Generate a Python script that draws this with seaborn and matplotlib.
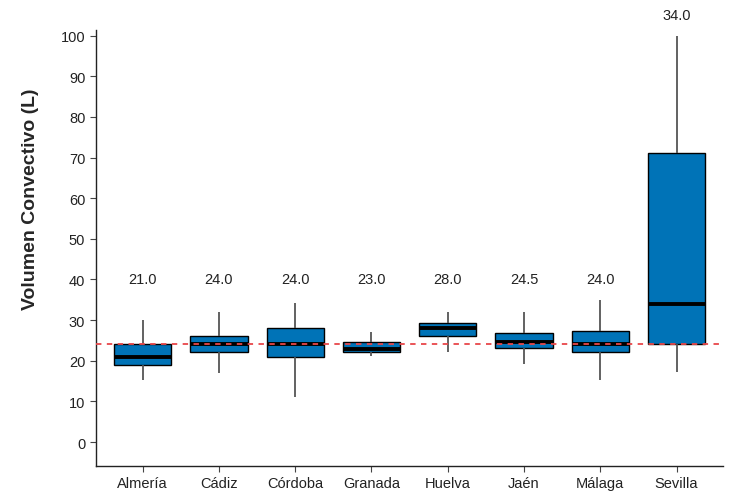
import numpy as np
import matplotlib.pyplot as plt
import seaborn as sns
import pandas as pd
from matplotlib import font_manager

# Summary values (min, Q1, median, Q3, max)
provincias = ["Almería", "Cádiz", "Córdoba", "Granada", "Huelva", "Jaén", "Málaga", "Sevilla"]
minimo = [15.2, 17.0, 11.2, 21.1, 22.2, 19.1, 15.2, 17.2]
q1 = [19.0, 22.1, 21.0, 22.1, 26.0, 23.1, 22.1, 24.0]
mediana = [21.0, 24.0, 24.0, 23.0, 28.0, 24.5, 24.0, 34.0]
q3 = [24.1, 26.0, 28.1, 24.7, 29.2, 26.8, 27.2, 71.2]
maximo = [30.0, 32.1, 34.2, 27.0, 32.1, 32.1, 35.0, 100.0]
referencia = 24.0


def main():
    # five points per province give exactly these quartiles
    rows = []
    for i, p in enumerate(provincias):
        for v in (minimo[i], q1[i], mediana[i], q3[i], maximo[i]):
            rows.append({"Provincia": p, "Volumen": v})
    df = pd.DataFrame(rows)

    sns.set_style("white")
    installed = {f.name for f in font_manager.fontManager.ttflist}
    narrow = "Liberation Sans Narrow" if "Liberation Sans Narrow" in installed else "Liberation Sans"
    plt.rcParams["font.family"] = [narrow, "DejaVu Sans"]

    fig = plt.figure(figsize=(7.33, 5.02), dpi=100)
    ax = fig.add_axes([0.1306, 0.0697, 0.8558, 0.8683])

    sns.boxplot(data=df, x="Provincia", y="Volumen", order=provincias,
                color="#0073B7", saturation=1, width=0.75, whis=(0, 100),
                showcaps=False, linecolor="black", linewidth=1.0,
                boxprops={"edgecolor": "black", "linewidth": 1.0},
                whiskerprops={"color": "#555555", "linewidth": 1.3},
                medianprops={"color": "black", "linewidth": 2.8},
                ax=ax)

    ax.axhline(referencia, color="#E8474A", linestyle=(0, (3, 3)),
               linewidth=1.3, zorder=5)

    # median labels above each box
    for i, m in enumerate(mediana):
        y = max(40.0, maximo[i] + 5.0)
        ax.text(i, y, f"{m:.1f}", ha="center", va="center",
                fontsize=10.5, color="#222222", clip_on=False)

    ax.set_xlim(-0.615, 7.61)
    ax.set_ylim(-5.9, 101.35)
    ax.set_yticks(np.arange(0, 101, 10))
    ax.set_xlabel("")
    ax.set_ylabel("Volumen Convectivo (L)", fontsize=14, fontweight="bold",
                  family=["Liberation Sans", "DejaVu Sans"])
    ax.yaxis.set_label_coords(-0.09, 0.615)
    ax.tick_params(axis="both", labelsize=10.5, colors="#222222",
                   length=4, width=0.8, left=True, bottom=True)
    ax.tick_params(axis="both", color="#444444")
    for side in ("top", "right"):
        ax.spines[side].set_visible(False)
    for side in ("left", "bottom"):
        ax.spines[side].set_color("#222222")
        ax.spines[side].set_linewidth(1.0)

    fig.savefig("out.png", dpi=100)


if __name__ == "__main__":
    main()
